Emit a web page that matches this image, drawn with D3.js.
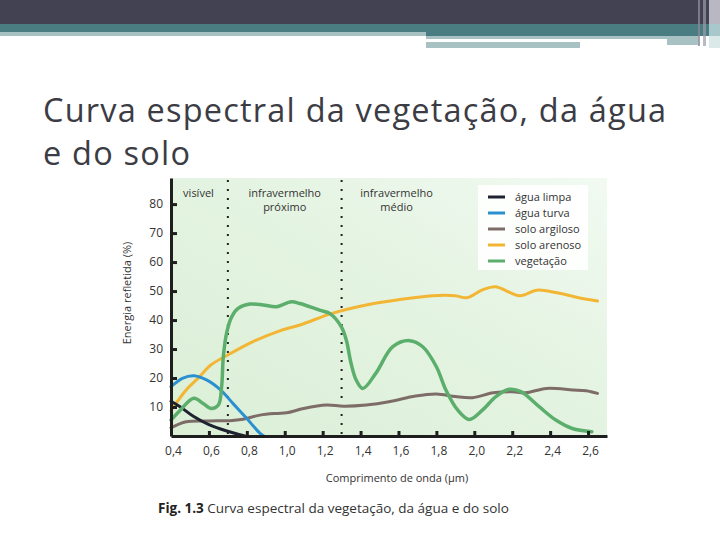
<!DOCTYPE html>
<html>
<head>
<meta charset="utf-8">
<script src="https://cdn.jsdelivr.net/npm/d3@7"></script>
<style>
  body { margin: 0; background: #fff; }
  svg { display: block; }
</style>
</head>
<body>
<script>
// espectro: comprimento de onda (um) x energia refletida (%)
var aguaLimpaX = [0.40, 0.45, 0.52, 0.60, 0.69, 0.79];
var aguaLimpaY = [12.0, 10.0, 6.7, 3.9, 1.8, 0];

var aguaTurvaX = [0.40, 0.46, 0.52, 0.59, 0.66, 0.73, 0.80, 0.87, 0.89];
var aguaTurvaY = [17.0, 19.9, 20.8, 19.3, 16.0, 11.0, 6.0, 0.9, 0];

var soloArgilosoX = [0.40, 0.48, 0.60, 0.71, 0.78, 0.87, 0.96, 1.01, 1.10, 1.22, 1.31, 1.43, 1.55, 1.69, 1.80, 1.90, 1.99, 2.10, 2.20, 2.27, 2.38, 2.52, 2.59, 2.65];
var soloArgilosoY = [2.8, 4.9, 5.2, 5.3, 5.8, 7.2, 7.8, 8.0, 9.5, 10.7, 10.3, 10.7, 11.8, 13.8, 14.5, 13.6, 13.2, 14.9, 15.3, 14.9, 16.4, 15.9, 15.6, 14.7];

var soloArenosoX = [0.40, 0.48, 0.55, 0.61, 0.69, 0.83, 0.97, 1.08, 1.25, 1.43, 1.60, 1.78, 1.90, 1.96, 2.04, 2.11, 2.24, 2.33, 2.43, 2.55, 2.65];
var soloArenosoY = [8.8, 15.9, 20.4, 24.5, 27.6, 32.5, 36.2, 38.3, 42.3, 45.2, 47.0, 48.4, 48.4, 47.7, 50.3, 51.5, 48.4, 50.3, 49.5, 47.7, 46.6];

var vegetacaoX = [0.40, 0.45, 0.52, 0.57, 0.61, 0.65, 0.667, 0.676, 0.693, 0.72, 0.754, 0.816, 0.886, 0.956, 1.035, 1.08, 1.184, 1.237, 1.30, 1.325, 1.35, 1.377, 1.412, 1.48, 1.57, 1.658, 1.728, 1.80, 1.85, 1.912, 1.974, 2.044, 2.114, 2.184, 2.246, 2.342, 2.43, 2.517, 2.62];
var vegetacaoY = [5.5, 9.0, 13.0, 11.2, 9.5, 10.7, 17.0, 27.3, 35.4, 41.1, 44.0, 45.5, 45.2, 44.6, 46.3, 45.7, 43.4, 42.3, 37.5, 33.0, 25.0, 19.3, 16.4, 21.6, 30.8, 32.9, 30.8, 23.9, 15.9, 9.0, 5.7, 9.0, 13.6, 16.1, 15.3, 10.1, 5.5, 2.6, 1.5];

var seriesNames = ["água limpa", "água turva", "solo argiloso", "solo arenoso", "vegetação"];
var seriesColors = ["#1e2130", "#2b90d0", "#7e6c68", "#f3b634", "#5cae6c"];

var xTicks = [0.4, 0.6, 0.8, 1.0, 1.2, 1.4, 1.6, 1.8, 2.0, 2.2, 2.4, 2.6];
var xTickLabels = ["0,4", "0,6", "0,8", "1,0", "1,2", "1,4", "1,6", "1,8", "2,0", "2,2", "2,4", "2,6"];
var yTicks = [10, 20, 30, 40, 50, 60, 70, 80];

// limites das regioes do espectro
var regionBounds = [0.7, 1.3];
var regionLabels = [["visível"], ["infravermelho", "próximo"], ["infravermelho", "médio"]];
var regionLabelX = [0.545, 1.0, 1.59];

var width = 720, height = 540;

var svg = d3.select("body").append("svg")
    .attr("width", width)
    .attr("height", height);

// ---- cabecalho do slide ----
var header = svg.append("g");
header.append("rect").attr("x", 0).attr("y", 0).attr("width", 720).attr("height", 24).attr("fill", "#424253");
header.append("rect").attr("x", 0).attr("y", 24).attr("width", 426).attr("height", 8).attr("fill", "#4a7d82");
header.append("rect").attr("x", 0).attr("y", 32).attr("width", 426).attr("height", 4).attr("fill", "#a8c2c4");
header.append("rect").attr("x", 426).attr("y", 24).attr("width", 294).attr("height", 12).attr("fill", "#4a7d82");
header.append("rect").attr("x", 426).attr("y", 36).attr("width", 241).attr("height", 3).attr("fill", "#a8c2c4");
header.append("rect").attr("x", 426).attr("y", 42).attr("width", 154).attr("height", 6).attr("fill", "#a8c2c4");
header.append("rect").attr("x", 667).attr("y", 36).attr("width", 31).attr("height", 9).attr("fill", "#a8c2c4");
header.append("rect").attr("x", 698).attr("y", 0).attr("width", 2).attr("height", 46).attr("fill", "#8a8a98").attr("opacity", 0.8);
header.append("rect").attr("x", 703).attr("y", 0).attr("width", 3).attr("height", 46).attr("fill", "#9c9ca8").attr("opacity", 0.7);
header.append("rect").attr("x", 709).attr("y", 0).attr("width", 11).attr("height", 24).attr("fill", "#b9b7c1");
header.append("rect").attr("x", 709).attr("y", 24).attr("width", 11).attr("height", 12).attr("fill", "#a9c8cb");
header.append("rect").attr("x", 709).attr("y", 36).attr("width", 11).attr("height", 12).attr("fill", "#dbe9e9");

// ---- titulo ----
var title = svg.append("text")
    .attr("font-family", "'Open Sans', sans-serif")
    .attr("font-size", 32.5)
    .attr("letter-spacing", 1.2)
    .attr("fill", "#3c3c44");
title.append("tspan").attr("x", 43).attr("y", 122).text("Curva espectral da vegetação, da água");
title.append("tspan").attr("x", 43).attr("y", 165).text("e do solo");

// ---- grafico ----
var x = d3.scaleLinear().domain([0.4, 2.7]).range([171, 607]);
var y = d3.scaleLinear().domain([0, 89]).range([436, 178]);

var defs = svg.append("defs");
var grad = defs.append("linearGradient").attr("id", "bg")
    .attr("x1", "0%").attr("y1", "100%").attr("x2", "100%").attr("y2", "0%");
grad.append("stop").attr("offset", "0%").attr("stop-color", "#dbefd6");
grad.append("stop").attr("offset", "60%").attr("stop-color", "#e5f4e3");
grad.append("stop").attr("offset", "100%").attr("stop-color", "#f2faf2");

svg.append("rect")
    .attr("x", x(0.4)).attr("y", y(89))
    .attr("width", x(2.7) - x(0.4)).attr("height", y(0) - y(89))
    .attr("fill", "url(#bg)");

// linhas pontilhadas das regioes
svg.selectAll(".regiao")
    .data(regionBounds)
    .enter()
    .append("line")
    .attr("class", "regiao")
    .attr("x1", function(d){ return x(d); })
    .attr("x2", function(d){ return x(d); })
    .attr("y1", y(89) + 2)
    .attr("y2", y(0))
    .attr("stroke", "#222")
    .attr("stroke-width", 2)
    .attr("stroke-dasharray", "2,7");

var chartFont = "'Open Sans', sans-serif";

regionLabels.forEach(function(lines, i){
  var t = svg.append("text")
      .attr("font-family", chartFont)
      .attr("font-size", 11)
      .attr("fill", "#333")
      .attr("text-anchor", "middle");
  lines.forEach(function(s, j){
    t.append("tspan").attr("x", x(regionLabelX[i])).attr("y", 197 + j * 14).text(s);
  });
});

// curvas
var series = [
  [aguaLimpaX, aguaLimpaY],
  [aguaTurvaX, aguaTurvaY],
  [soloArgilosoX, soloArgilosoY],
  [soloArenosoX, soloArenosoY],
  [vegetacaoX, vegetacaoY]
];

var line = d3.line()
    .x(function(d){ return x(d[0]); })
    .y(function(d){ return y(d[1]); })
    .curve(d3.curveCatmullRom.alpha(0.5));

// ordem de desenho: solo e agua por baixo, vegetacao por cima
[2, 3, 1, 0, 4].forEach(function(i){
  var pts = d3.zip(series[i][0], series[i][1]);
  svg.append("path")
      .datum(pts)
      .attr("fill", "none")
      .attr("stroke", seriesColors[i])
      .attr("stroke-width", i == 4 ? 3.5 : 3)
      .attr("stroke-linecap", "round")
      .attr("stroke-linejoin", "round")
      .attr("d", line);
});

// eixos
var yAxis = svg.append("g")
    .attr("transform", "translate(" + x(0.4) + ",0)")
    .call(d3.axisLeft(y).tickValues(yTicks).tickSizeInner(-6).tickSizeOuter(0).tickPadding(8));

var xAxis = svg.append("g")
    .attr("transform", "translate(0," + y(0) + ")")
    .call(d3.axisBottom(x).tickValues(xTicks).tickSizeInner(-5).tickSizeOuter(0).tickPadding(10)
      .tickFormat(function(d, i){ return xTickLabels[i]; }));

[yAxis, xAxis].forEach(function(g){
  g.select(".domain").attr("stroke", "#1e1e1e").attr("stroke-width", 3);
  g.selectAll(".tick line").attr("stroke", "#1e1e1e").attr("stroke-width", 3);
  g.selectAll(".tick text")
      .attr("font-family", chartFont)
      .attr("font-size", 12)
      .attr("fill", "#333");
});
xAxis.selectAll(".tick text").attr("dx", 2);

svg.append("text")
    .attr("transform", "translate(131,293) rotate(-90)")
    .attr("text-anchor", "middle")
    .attr("font-family", chartFont)
    .attr("font-size", 11)
    .attr("fill", "#333")
    .text("Energia refletida (%)");

svg.append("text")
    .attr("x", 397).attr("y", 482)
    .attr("text-anchor", "middle")
    .attr("font-family", chartFont)
    .attr("font-size", 11)
    .attr("fill", "#333")
    .text("Comprimento de onda (µm)");

// legenda
var legend = svg.append("g");
legend.append("rect")
    .attr("x", 478).attr("y", 185)
    .attr("width", 110).attr("height", 85)
    .attr("fill", "#fff").attr("opacity", 0.9);

var items = legend.selectAll(".item")
    .data(seriesNames)
    .enter()
    .append("g")
    .attr("class", "item")
    .attr("transform", function(d, i){ return "translate(488," + (197 + i * 16) + ")"; });

items.append("line")
    .attr("x1", 0).attr("x2", 17)
    .attr("stroke", function(d, i){ return seriesColors[i]; })
    .attr("stroke-width", 3);

items.append("text")
    .attr("x", 27).attr("dy", "0.35em")
    .attr("font-family", chartFont)
    .attr("font-size", 11)
    .attr("fill", "#333")
    .text(function(d){ return d; });

// legenda da figura
var cap = svg.append("text")
    .attr("x", 158).attr("y", 513)
    .attr("font-family", chartFont)
    .attr("font-size", 13.5)
    .attr("fill", "#333");
cap.append("tspan").attr("font-weight", "bold").attr("fill", "#222").text("Fig. 1.3");
cap.append("tspan").text(" Curva espectral da vegetação, da água e do solo");
</script>
</body>
</html>
